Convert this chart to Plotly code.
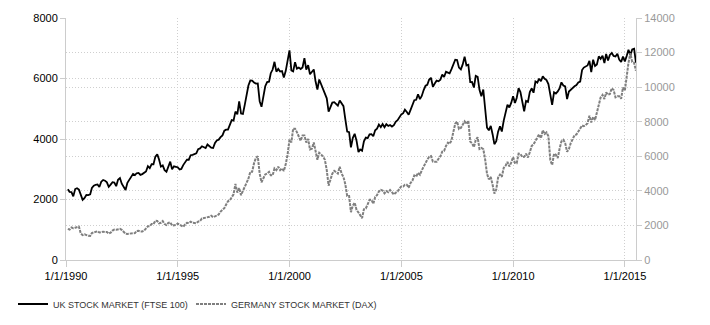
import pandas as pd
import plotly.graph_objects as go

# Monthly closing levels, Jan 1990 - Jun 2015
ftse_100 = [
    2337, 2255, 2247, 2103, 2345, 2374, 2326, 2162, 1990, 2050, 2149, 2144,
    2170, 2380, 2456, 2487, 2500, 2415, 2589, 2645, 2622, 2566, 2420, 2493,
    2571, 2562, 2440, 2655, 2708, 2521, 2399, 2313, 2553, 2658, 2778, 2847,
    2807, 2868, 2878, 2813, 2840, 2900, 2927, 3100, 3038, 3171, 3166, 3418,
    3491, 3328, 3086, 3126, 2970, 2919, 3082, 3251, 2998, 3095, 3082, 3066,
    2992, 3009, 3137, 3217, 3320, 3315, 3463, 3478, 3508, 3529, 3664, 3689,
    3760, 3727, 3700, 3818, 3747, 3711, 3703, 3867, 3953, 3979, 4059, 4119,
    4275, 4308, 4313, 4437, 4621, 4604, 4907, 4817, 5244, 4842, 4831, 5136,
    5458, 5767, 5932, 5928, 5870, 5833, 5837, 5249, 5064, 5438, 5744, 5883,
    5896, 6175, 6296, 6552, 6226, 6318, 6231, 6246, 6030, 6255, 6598, 6930,
    6268, 6233, 6540, 6327, 6360, 6313, 6365, 6673, 6294, 6439, 6142, 6222,
    6298, 5918, 5634, 5967, 5797, 5643, 5529, 5345, 4903, 5040, 5204, 5217,
    5165, 5101, 5272, 5166, 5086, 4656, 4246, 4228, 3722, 4040, 4170, 3940,
    3567, 3656, 3613, 3926, 4048, 4031, 4157, 4161, 4091, 4288, 4343, 4477,
    4391, 4492, 4386, 4489, 4431, 4464, 4413, 4459, 4571, 4624, 4703, 4814,
    4852, 4968, 4894, 4801, 4964, 5113, 5282, 5296, 5478, 5317, 5423, 5619,
    5760, 5792, 5965, 6023, 5724, 5833, 5928, 5906, 5961, 6129, 6049, 6221,
    6203, 6172, 6308, 6449, 6621, 6608, 6360, 6303, 6467, 6722, 6432, 6457,
    5880, 5885, 5702, 6087, 6053, 5626, 5412, 5637, 4902, 4377, 4288, 4434,
    4150, 3830, 3926, 4244, 4418, 4249, 4608, 4909, 5134, 5045, 5191, 5413,
    5189, 5355, 5680, 5553, 5188, 4917, 5258, 5225, 5549, 5675, 5528, 5900,
    5863, 5994, 5909, 6070, 5990, 5946, 5815, 5395, 5128, 5544, 5505, 5572,
    5682, 5872, 5768, 5738, 5321, 5571, 5635, 5711, 5742, 5783, 5867, 5898,
    6277, 6361, 6412, 6430, 6583, 6215, 6621, 6413, 6462, 6731, 6651, 6749,
    6510, 6810, 6598, 6780, 6845, 6744, 6730, 6820, 6623, 6546, 6723, 6566,
    6749, 6947, 6773, 6961, 6984, 6521,
]

dax = [
    1800, 1760, 1880, 1835, 1870, 1900, 1930, 1530, 1440, 1480, 1420, 1398,
    1390, 1560, 1600, 1620, 1660, 1590, 1620, 1640, 1620, 1620, 1530, 1578,
    1700, 1760, 1750, 1760, 1800, 1740, 1600, 1520, 1510, 1520, 1500, 1545,
    1560, 1680, 1690, 1650, 1650, 1700, 1830, 1950, 1960, 2080, 2080, 2267,
    2260, 2120, 2150, 2250, 2080, 2020, 2150, 2180, 1990, 2010, 2030, 2107,
    2050, 2010, 1920, 2050, 2150, 2140, 2220, 2150, 2160, 2130, 2220, 2254,
    2400, 2420, 2460, 2490, 2500, 2560, 2480, 2520, 2600, 2640, 2800, 2889,
    3000, 3200, 3400, 3450, 3600, 3800, 4400, 3900, 4160, 3750, 4000, 4250,
    4400, 4700, 5100, 5100, 5600, 5900, 6000, 5000, 4500, 4700, 4950, 5002,
    5100, 4900, 4900, 5300, 5200, 5400, 5200, 5300, 5150, 5550, 6100, 6958,
    6800, 7600, 7600, 7400, 7100, 6900, 7200, 7200, 6800, 7000, 6400, 6434,
    6800, 6200, 5800, 6200, 6100, 6000, 5800, 5200, 4300, 4600, 5000, 5160,
    5100, 5000, 5400, 5000, 4800, 4380, 3700, 3700, 2770, 3150, 3320, 2893,
    2750, 2550, 2420, 2940, 2980, 3220, 3480, 3480, 3250, 3650, 3750, 3965,
    4060, 4020, 3860, 3990, 3920, 4050, 3900, 3790, 3890, 3960, 4130, 4256,
    4250, 4350, 4350, 4180, 4460, 4590, 4890, 4830, 5040, 4930, 5190, 5408,
    5670, 5800, 5970, 6010, 5690, 5680, 5680, 5860, 6000, 6270, 6310, 6597,
    6790, 6720, 6920, 7410, 7880, 8010, 7580, 7640, 7860, 8020, 7870, 8067,
    6850, 6750, 6530, 6950, 7100, 6420, 6480, 6420, 5830, 4990, 4670, 4810,
    4340, 3840, 4080, 4770, 4940, 4810, 5330, 5460, 5680, 5410, 5630, 5957,
    5610, 5600, 6150, 6140, 5960, 5970, 6150, 5930, 6230, 6600, 6690, 6914,
    7080, 7270, 7040, 7510, 7290, 7380, 7160, 5780, 5500, 6140, 6090, 5898,
    6460, 6860, 6950, 6760, 6260, 6420, 6770, 6970, 7220, 7260, 7410, 7612,
    7780, 7740, 7800, 7910, 8350, 7960, 8280, 8100, 8590, 9030, 9400, 9552,
    9310, 9690, 9560, 9600, 9940, 9830, 9410, 9470, 9470, 9330, 9980, 9806,
    10690, 11400, 11970, 11450, 11410, 10945,
]

dates = pd.date_range("1990-01-31", periods=len(ftse_100), freq="ME")

x_tick_dates = ["1990-01-01", "1995-01-01", "2000-01-01", "2005-01-01", "2010-01-01", "2015-01-01"]
x_tick_labels = ["1/1/1990", "1/1/1995", "1/1/2000", "1/1/2005", "1/1/2010", "1/1/2015"]
left_ticks = [0, 2000, 4000, 6000, 8000]
right_ticks = [0, 2000, 4000, 6000, 8000, 10000, 12000, 14000]

font_family = "Liberation Sans, Arial, sans-serif"
grid_color = "#cfcfcf"
axis_color = "#cccccc"
grid_dash = "1px,2px"

fig = go.Figure()
fig.add_trace(go.Scatter(
    x=dates, y=ftse_100, mode="lines", name="UK STOCK MARKET (FTSE 100)",
    line=dict(color="#000000", width=1.8), legend="legend",
))
fig.add_trace(go.Scatter(
    x=dates, y=dax, mode="lines", name="GERMANY STOCK MARKET (DAX)", yaxis="y2",
    line=dict(color="#7f7f7f", width=2, dash="3px,1px"), legend="legend2",
))

legend_style = dict(
    orientation="h", xref="container", yref="container",
    y=(325 - 304) / 325, xanchor="left", yanchor="middle",
    font=dict(size=9, color="#333333"), itemwidth=30,
    bgcolor="rgba(0,0,0,0)",
)

fig.update_layout(
    width=710, height=325,
    margin=dict(l=66, r=74, t=18, b=65, autoexpand=False),
    paper_bgcolor="white", plot_bgcolor="white",
    font=dict(family=font_family, size=11, color="#000000"),
    showlegend=True,
    legend=dict(legend_style, x=13 / 710),
    legend2=dict(legend_style, x=191 / 710),
    xaxis=dict(
        type="date", range=["1990-01-01", "2015-07-01"],
        tickvals=x_tick_dates, ticktext=x_tick_labels,
        showgrid=True, gridcolor=grid_color, griddash=grid_dash, gridwidth=1,
        showline=True, linecolor=axis_color, linewidth=1,
        ticks="outside", ticklen=6, tickcolor=axis_color,
        tickfont=dict(size=11, color="#000000"), zeroline=False,
    ),
    yaxis=dict(
        range=[0, 8000], tickvals=left_ticks, ticktext=[str(v) for v in left_ticks],
        showgrid=True, gridcolor=grid_color, griddash=grid_dash, gridwidth=1,
        showline=True, linecolor=axis_color, linewidth=1,
        ticks="outside", ticklen=5, tickcolor=axis_color,
        tickfont=dict(size=11, color="#000000"), zeroline=False,
    ),
    yaxis2=dict(
        range=[0, 14000], tickvals=right_ticks, ticktext=[str(v) for v in right_ticks],
        overlaying="y", side="right",
        showgrid=True, gridcolor=grid_color, griddash=grid_dash, gridwidth=1,
        showline=True, linecolor=axis_color, linewidth=1,
        ticks="outside", ticklen=5, tickcolor=axis_color,
        tickfont=dict(size=11, color="#999999"), zeroline=False,
    ),
)

fig.write_html("out.html")
